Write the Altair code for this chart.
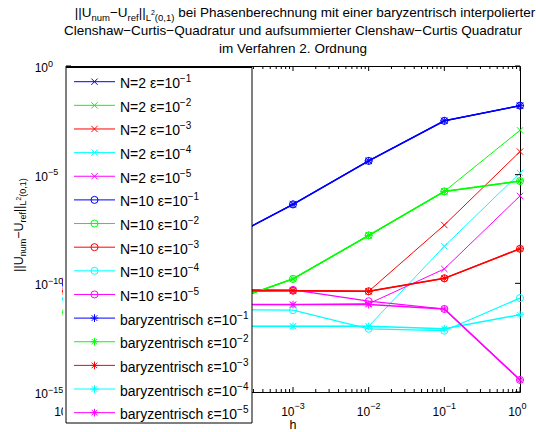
import altair as alt
import pandas as pd

# ---------------------------------------------------------------- data
# step sizes h
h_vals = [1e-6, 1e-5, 1e-4, 1e-3, 1e-2, 1e-1, 1e0]

# tolerance eps = 10^-k, one colour per k
eps_k = ["1", "2", "3", "4", "5"]
eps_colors = ["#0000ff", "#00ff00", "#ff0000", "#00ffff", "#ff00ff"]

kinds = ["N=2", "N=10", "baryzentrisch"]

# error norms ||U_num - U_ref||_L2(0,1), rows: eps = 1e-1 ... 1e-5
err_n2 = [
    [8.7e-11, 4.0e-10, 6.3e-9, 4.3e-7, 4.3e-5, 3.0e-3, 1.5e-2],
    [4.6e-12, 5.6e-12, 9.3e-12, 1.6e-10, 1.6e-8, 1.7e-6, 1.1e-3],
    [4.3e-11, 4.4e-11, 4.5e-11, 4.6e-11, 4.3e-11, 4.8e-8, 1.15e-4],
    [1.9e-11, 1.3e-12, 1.05e-12, 1.05e-12, 1.05e-12, 5.1e-9, 1.2e-5],
    [1.4e-10, 1.26e-11, 1.05e-11, 1.05e-11, 1.15e-11, 4.6e-10, 1.05e-6],
]
err_n10 = [
    [8.7e-11, 4.0e-10, 6.3e-9, 4.3e-7, 4.3e-5, 3.0e-3, 1.5e-2],
    [4.6e-12, 5.6e-12, 9.3e-12, 1.6e-10, 1.6e-8, 1.7e-6, 5.1e-6],
    [4.3e-11, 4.4e-11, 4.5e-11, 4.6e-11, 4.3e-11, 1.7e-10, 3.9e-9],
    [1.9e-11, 1.0e-11, 6.3e-12, 5.8e-12, 8.1e-13, 6.6e-13, 2.1e-11],
    [1.4e-10, 7.9e-11, 5.2e-11, 5.0e-11, 1.5e-11, 6.6e-12, 3.6e-15],
]
err_bary = [
    [8.7e-11, 4.0e-10, 6.3e-9, 4.3e-7, 4.3e-5, 3.0e-3, 1.5e-2],
    [4.6e-12, 5.6e-12, 9.3e-12, 1.6e-10, 1.6e-8, 1.7e-6, 5.1e-6],
    [4.3e-11, 4.4e-11, 4.5e-11, 4.6e-11, 4.3e-11, 1.7e-10, 3.9e-9],
    [1.9e-11, 1.3e-12, 1.05e-12, 1.05e-12, 1.05e-12, 8.1e-13, 3.6e-12],
    [1.4e-10, 1.26e-11, 1.05e-11, 1.05e-11, 1.05e-11, 6.6e-12, 3.6e-15],
]

# axis ticks (decades) and their exponents; the labels of 1e-5 and 1e-4
# sit under the legend box and are left out
x_tick_exp = [-6, -5, -4, -3, -2, -1, 0]
x_label_exp = [-6, -3, -2, -1, 0]
y_tick_exp = [0, -5, -10, -15]

title_lines = [
    "Clenshaw\u2212Curtis\u2212Quadratur und aufsummierter Clenshaw\u2212Curtis Quadratur",
    "im Verfahren 2. Ordnung",
]
title_rest = "bei Phasenberechnung mit einer baryzentrisch interpolierter"
x_label = "h"

# ---------------------------------------------------------------- layout
W, H = 454, 326
FONT = "Liberation Sans"

# Arial / Liberation Sans advance widths (1/1000 em) for text layout
AW = {' ': 278, '(': 333, ')': 333, ',': 278, '.': 278, '=': 584, '|': 260,
      '\u2212': 584, '\u03b5': 440}
AW.update({d: 556 for d in "0123456789"})
AW.update(dict(zip("ABCDEFGHIJKLMNOPQRSTUVWXYZ",
                   [667, 667, 722, 722, 667, 611, 778, 722, 278, 500, 667, 556, 833,
                    722, 778, 667, 778, 722, 667, 611, 722, 667, 944, 667, 667, 611])))
AW.update(dict(zip("abcdefghijklmnopqrstuvwxyz",
                   [556, 556, 500, 556, 556, 278, 556, 556, 222, 222, 500, 222, 833,
                    556, 556, 556, 556, 333, 500, 278, 556, 500, 722, 500, 500, 500])))


def tw(s, fs):
    return sum(AW.get(c, 556) for c in s) * fs / 1000.0


def minus(k):
    return ("\u2212" + str(-k)) if k < 0 else str(k)


norm_pieces = [("||U", 0), ("num", 1), ("\u2212U", 0), ("ref", 1), ("||", 0),
               ("L", 1), ("2", 2), ("(0,1)", 1)]

ann = []      # left-aligned annotation text pieces
# title, first line with sub/superscripts
TF = {0: 13.5, 1: 9.5, 2: 7.0}
TSH = {0: 0, 1: 4, 2: -2}
SPACE = tw(" ", TF[0])
total = sum(tw(s, TF[l]) for s, l in norm_pieces) + SPACE + tw(title_rest, TF[0])
cx = W / 2 + 12 - total / 2
for s, l in norm_pieces:
    ann.append(dict(t=s, px=cx, py=-49 + TSH[l], fs=TF[l], ang=0))
    cx += tw(s, TF[l])
ann.append(dict(t=title_rest, px=cx + SPACE, py=-49, fs=TF[0], ang=0))

# rotated y label
YF = {0: 12.5, 1: 9.0, 2: 6.5}
YSH = {0: 0, 1: 3.5, 2: -1.5}
total = sum(tw(s, YF[l]) for s, l in norm_pieces)
cy = (225 - 66) + total / 2
for s, l in norm_pieces:
    ann.append(dict(t=s, px=-43.5 + YSH[l], py=cy, fs=YF[l], ang=270))
    cy -= tw(s, YF[l])

# centred annotation text
ann_c = [dict(t=title_lines[0], px=W / 2, py=-31, fs=13.5),
         dict(t=title_lines[1], px=W / 2, py=-13, fs=13.5),
         dict(t=x_label, px=W / 2, py=H + 36.5, fs=12.5)]

# legend rows
LF, LE = 14.0, 10.0
leg_rows = []
for i in range(15):
    kind = kinds[i // 5]
    k = eps_k[i % 5]
    yc = 15.7 + i * 23.64
    base = f"{kind} \u03b5=10"
    leg_rows.append(dict(kind=kind, eps=k, yc=yc))
    ann.append(dict(t=base, px=54, py=yc + 6.5, fs=LF, ang=0))
    ann.append(dict(t="\u2212" + k, px=54 + tw(base, LF), py=yc + 0.5, fs=LE, ang=0))

# ---------------------------------------------------------------- frames
rows = []
for kind, table in zip(kinds, [err_n2, err_n10, err_bary]):
    for k, errs in zip(eps_k, table):
        for hv, e in zip(h_vals, errs):
            rows.append(dict(kind=kind, eps=k, series=f"{kind} {k}", h=hv, err=e))
df = pd.DataFrame(rows)

x_major = pd.DataFrame({"t": [10.0 ** e for e in x_tick_exp]})
x_labels = pd.DataFrame({"t": [10.0 ** e for e in x_label_exp],
                         "ex": [minus(e) for e in x_label_exp]})
x_minor = pd.DataFrame({"t": [m * 10.0 ** e for e in x_tick_exp[:-1] for m in range(2, 10)]})
y_major = pd.DataFrame({"v": [10.0 ** e for e in y_tick_exp],
                        "ex": [minus(e) for e in y_tick_exp]})
ann_df = pd.DataFrame(ann)
ann_c_df = pd.DataFrame(ann_c)
leg_df = pd.DataFrame(leg_rows)
one = pd.DataFrame({"k": [0]})

# ---------------------------------------------------------------- scales
xs = alt.Scale(type="log", domain=[1e-6, 1], nice=False)
ys = alt.Scale(type="log", domain=[1e-15, 1], nice=False)
cs = alt.Scale(domain=eps_k, range=eps_colors)
X_PATH = "M-1,-1L1,1M-1,1L1,-1"
STAR_PATH = "M0,-1L0,1M-1,0L1,0M-0.72,-0.72L0.72,0.72M-0.72,0.72L0.72,-0.72"
ss = alt.Scale(domain=kinds, range=[X_PATH, "circle", STAR_PATH])
zs = alt.Scale(domain=kinds, range=[40, 60, 64])
ws = alt.Scale(domain=kinds, range=[1.0, 1.5, 1.5])

X = alt.X("h:Q", scale=xs, axis=None)
Y = alt.Y("err:Q", scale=ys, axis=None)
C = alt.Color("eps:N", scale=cs, legend=None)
S = alt.Shape("kind:N", scale=ss, legend=None)
Z = alt.Size("kind:N", scale=zs, legend=None)
SW = alt.StrokeWidth("kind:N", scale=ws, legend=None)

layers = []
base = alt.Chart(df)
for kind in kinds:
    sub = base.transform_filter(alt.datum.kind == kind)
    layers.append(sub.mark_line().encode(x=X, y=Y, color=C, strokeWidth=SW, detail="series:N"))
    layers.append(sub.mark_point(filled=False, opacity=1, strokeWidth=1).encode(
        x=X, y=Y, color=C, shape=S, size=Z))

# inward ticks on all four sides
TX = alt.X("t:Q", scale=xs, axis=None)
TY = alt.Y("v:Q", scale=ys, axis=None)
rule = dict(color="black", strokeWidth=1)
for d, ln in ((x_major, 5), (x_minor, 3)):
    layers.append(alt.Chart(d).mark_rule(**rule).encode(x=TX, y=alt.value(H), y2=alt.value(H - ln)))
    layers.append(alt.Chart(d).mark_rule(**rule).encode(x=TX, y=alt.value(0), y2=alt.value(ln)))
layers.append(alt.Chart(y_major).mark_rule(**rule).encode(y=TY, x=alt.value(0), x2=alt.value(5)))
layers.append(alt.Chart(y_major).mark_rule(**rule).encode(y=TY, x=alt.value(W), x2=alt.value(W - 5)))

# tick labels 10^k
txt = dict(font=FONT, color="black")
layers.append(alt.Chart(x_labels).mark_text(align="right", dx=1.5, fontSize=12, **txt).encode(
    x=TX, y=alt.value(H + 19.5), text=alt.value("10")))
layers.append(alt.Chart(x_labels).mark_text(align="left", dx=1.5, fontSize=9, **txt).encode(
    x=TX, y=alt.value(H + 13.5), text="ex:N"))
layers.append(alt.Chart(y_major).mark_text(align="right", baseline="alphabetic", dy=6, fontSize=12, **txt).encode(
    y=TY, x=alt.value(-18), text=alt.value("10")))
layers.append(alt.Chart(y_major).mark_text(align="left", baseline="alphabetic", dy=0.5, fontSize=9, **txt).encode(
    y=TY, x=alt.value(-18), text="ex:N"))

PX = alt.X("px:Q", scale=None, axis=None)
PY = alt.Y("py:Q", scale=None, axis=None)

# centred title lines and x label
layers.append(alt.Chart(ann_c_df).mark_text(align="center", baseline="alphabetic", **txt).encode(
    x=PX, y=PY, text="t:N", size=alt.Size("fs:Q", scale=None, legend=None)))

# legend box
layers.append(alt.Chart(one).mark_rect(color="white").encode(
    x=alt.value(-3), x2=alt.value(186), y=alt.value(1.5), y2=alt.value(357)))
layers.append(alt.Chart(one).mark_rect(color="white", fillOpacity=0, stroke="black", strokeWidth=1).encode(
    x=alt.value(0), x2=alt.value(186), y=alt.value(1.5), y2=alt.value(357)))
LY = alt.Y("yc:Q", scale=None, axis=None)
layers.append(alt.Chart(leg_df).mark_rule(strokeWidth=1).encode(
    x=alt.value(8), x2=alt.value(49), y=LY, color=C))
layers.append(alt.Chart(leg_df).mark_point(filled=False, opacity=1, strokeWidth=1).encode(
    x=alt.value(28.5), y=LY, color=C, shape=S, size=Z))

# left-aligned pieces: title line 1, y label, legend labels
layers.append(alt.Chart(ann_df).mark_text(align="left", baseline="alphabetic", **txt).encode(
    x=PX, y=PY, text="t:N", size=alt.Size("fs:Q", scale=None, legend=None),
    angle=alt.Angle("ang:Q", scale=None)))

chart = alt.layer(*layers).properties(
    width=W, height=H,
    padding={"left": 66, "top": 66, "right": 16, "bottom": 40},
    autosize=alt.AutoSizeParams(type="none"),
    background="white",
).configure_view(stroke="black", strokeWidth=1)

chart.save("out.html", embed_options={"renderer": "svg", "actions": False})
